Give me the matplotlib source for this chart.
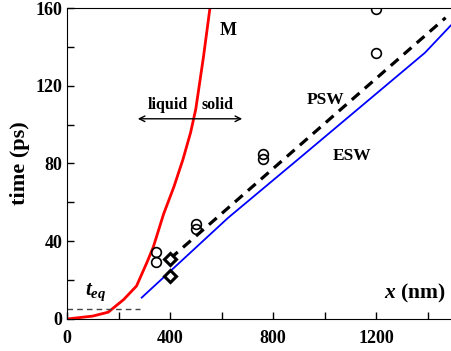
import numpy as np
import matplotlib
matplotlib.use("Agg")
import matplotlib.pyplot as plt
from matplotlib.ticker import MultipleLocator

plt.rcParams["font.family"] = "Liberation Serif"
plt.rcParams["font.weight"] = "bold"
plt.rcParams["axes.labelweight"] = "bold"
plt.rcParams["mathtext.fontset"] = "custom"
plt.rcParams["mathtext.it"] = "Liberation Serif:italic:bold"
plt.rcParams["mathtext.rm"] = "Liberation Serif:bold"

# curve M (melting front)
m_x = [0, 100, 160, 220, 270, 310, 335, 375, 415, 450, 480, 500, 530, 555]
m_t = [0, 1.5, 3.5, 10, 17, 29, 37, 54, 68, 82, 96, 108, 135, 160]

# ESW (blue) and PSW (dashed)
esw_x = [290, 625, 905, 1390, 1490]
esw_t = [11, 52, 83, 137, 151]
psw_x = [400, 1470]
psw_t = [31, 155]

# measured points
circ_x = [346, 346, 500, 500, 761, 761, 1200, 1200]
circ_t = [34.5, 29.3, 48.9, 46.3, 84.9, 82.3, 159.5, 137]
diam_x = [400, 400]
diam_t = [30.9, 22.1]

t_eq = 5

fig = plt.figure(figsize=(4.51, 3.51), dpi=100)
ax = fig.add_axes([0.1486, 0.0912, 0.8514, 0.886])

ax.plot(m_x, m_t, color="red", lw=2)
ax.plot(esw_x, esw_t, color="blue", lw=1.3)
ax.plot(psw_x, psw_t, color="black", lw=2.3, ls=(0, (3.2, 2.2)))
ax.plot([0, 283], [t_eq, t_eq], color="#444444", lw=1, ls=(0, (4, 3)))
ax.plot(circ_x, circ_t, "o", ms=7, mfc="none", mec="black", mew=1.2)
ax.plot(diam_x, diam_t, "D", ms=6, mfc="white", mec="black", mew=2.2, zorder=5)

ax.annotate("", xy=(264, 103), xytext=(691, 103),
            arrowprops=dict(arrowstyle="<->", color="black", lw=1))
ax.text(470, 110, "liquid", ha="right", va="center", fontsize=11.5)
ax.text(524, 110, "solid", ha="left", va="center", fontsize=11.5)
ax.text(627, 148.5, "M", ha="center", va="center", fontsize=13)
ax.text(1002, 112.5, "PSW", ha="center", va="center", fontsize=12.5)
ax.text(1107, 84, "ESW", ha="center", va="center", fontsize=12.5)
ax.text(110, 14, "$t_{eq}$", ha="center", va="center", fontsize=15)
ax.text(1470, 13, "$x$ (nm)", ha="right", va="center", fontsize=15.5)

ax.set_xlim(0, 1491)
ax.set_ylim(0, 160)
ax.xaxis.set_major_locator(MultipleLocator(400))
ax.xaxis.set_minor_locator(MultipleLocator(200))
ax.yaxis.set_major_locator(MultipleLocator(40))
ax.yaxis.set_minor_locator(MultipleLocator(20))
ax.tick_params(which="both", direction="in", labelsize=13, length=5, width=1)
ax.tick_params(axis="x", pad=8)
ax.spines["right"].set_visible(False)
ax.set_ylabel("time (ps)", fontsize=16, labelpad=4)

fig.savefig("out.png", dpi=100)
